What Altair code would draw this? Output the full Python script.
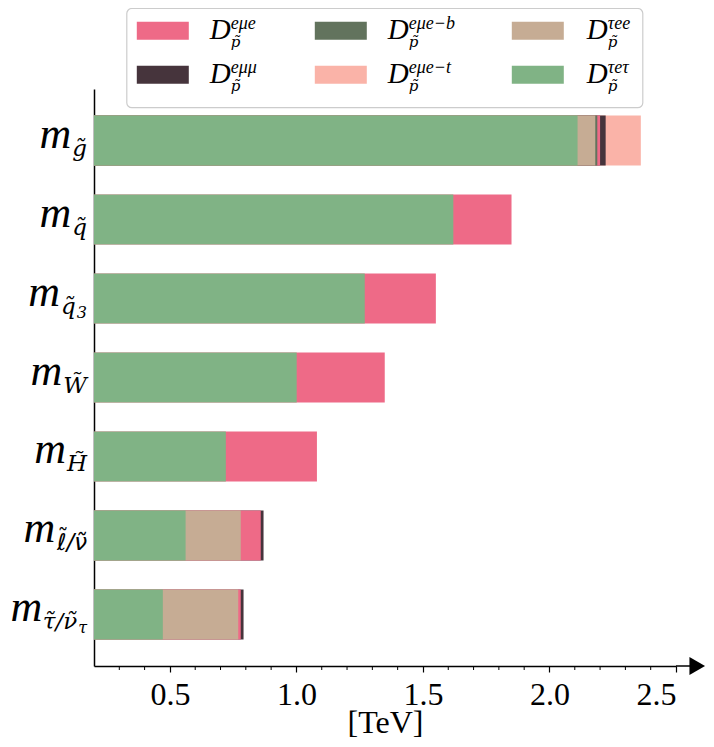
import altair as alt
import pandas as pd

# ---------------- data ----------------
categories = ["m_g", "m_q", "m_q3", "m_W", "m_H", "m_l", "m_tau"]
series = ["eμe", "eμμ", "eμe−b", "eμe−t", "τee", "τeτ"]
colors = ["#EE6A87", "#46343C", "#62735D", "#FAB3A8", "#C6AC94", "#80B385"]

# mass reach in TeV per benchmark (overlapping bars, None = not visible)
v_emue = [2.200, 1.850, 1.551, 1.349, 1.081, 0.859, 0.780]
v_emumu = [2.222, None, None, None, None, 0.870, 0.791]
v_emue_b = [2.189, None, None, None, None, None, None]
v_emue_t = [2.361, None, None, None, None, None, None]
v_tauee = [2.181, None, None, None, None, 0.780, 0.770]
v_tauetau = [2.111, 1.620, 1.270, 1.001, 0.721, 0.562, 0.472]

major_ticks = [0.5, 1.0, 1.5, 2.0, 2.5]
minor_ticks = [0.3, 0.4, 0.6, 0.7, 0.8, 0.9, 1.1, 1.2, 1.3, 1.4, 1.6, 1.7,
               1.8, 1.9, 2.1, 2.2, 2.3, 2.4]

# y labels: m with subscript (and sub-subscript)
label_subs = {
    "m_g": ["g\u0303"],
    "m_q": ["q\u0303"],
    "m_q3": ["q\u0303", "3"],
    "m_W": ["W\u0303"],
    "m_H": ["H\u0303"],
    "m_l": ["ℓ/ν\u0303"],
    "m_tau": ["τ\u0303/ν\u0303", "τ"],
}
legend_sups = series

# ---------------- layout ----------------
W, H = 582, 577
FONT = "Liberation Serif"
SUBFONT = "DejaVu Serif"
XMIN, XMAX = 0.2, 2.5
XARROW = 2.584

rows = []
for s, vals in zip(series, [v_emue, v_emumu, v_emue_b, v_emue_t, v_tauee, v_tauetau]):
    for c, v in zip(categories, vals):
        if v is not None:
            rows.append({"cat": c, "series": s, "value": v})
df = pd.DataFrame(rows).sort_values("value", ascending=False).reset_index(drop=True)
df["rank"] = range(len(df))

yscale = alt.Scale(paddingInner=0.37, paddingOuter=0.337)
yenc = alt.Y("cat:N", sort=categories, scale=yscale,
             axis=alt.Axis(labels=False, ticks=False, title=None, domainColor="black",
                           domainWidth=1.5, grid=False))

bars = alt.Chart(df).mark_bar(clip=True).encode(
    x=alt.X("value:Q", stack=None,
            scale=alt.Scale(domain=[XMIN, XMAX], nice=False, zero=False),
            axis=alt.Axis(values=major_ticks, format=".1f", labelFont=FONT, labelFontSize=32,
                          labelColor="black", labelPadding=7, tickSize=6, tickColor="black",
                          tickWidth=1.2, domainColor="black", domainWidth=1.5, grid=False,
                          title="[TeV]", titleFont=FONT, titleFontSize=32,
                          titleFontWeight="normal", titleColor="black",
                          titleBaseline="alphabetic", titleY=66)),
    x2=alt.datum(0),
    y=yenc,
    color=alt.Color("series:N", scale=alt.Scale(domain=series, range=colors), legend=None),
    order=alt.Order("rank:Q"),
)

minor = alt.Chart(pd.DataFrame({"t": minor_ticks})).mark_rule(color="black", strokeWidth=1).encode(
    x="t:Q", y=alt.value(H), y2=alt.value(H + 4))

one = alt.Data(values=[{"a": 1}])
arrow_line = alt.Chart(one).mark_rule(color="black", strokeWidth=1.5).encode(
    x=alt.datum(XMAX), x2=alt.datum(XARROW), y=alt.value(H))
arrow_head = alt.Chart(one).mark_point(shape="triangle-right", filled=True, size=324,
                                        color="black", opacity=1).encode(
    x=alt.datum(XARROW), y=alt.value(H))

# width estimates (em) for right-aligned labels
EM_M = {"m": 0.72}
EM_SUB = {"g": 0.64, "q": 0.64, "W": 1.03, "H": 0.87, "ℓ": 0.42, "/": 0.34,
          "ν": 0.58, "τ": 0.55, "3": 0.64, "\u0303": 0.0}


def tw(s, size, table):
    return sum(table.get(ch, 0.6) for ch in s) * size


label_layers = []
RIGHT = -7
for c in categories:
    parts = [("m", 44, 7, FONT, EM_M)]
    subs = label_subs[c]
    subfont = "DejaVu Sans" if "ℓ" in subs[0] else SUBFONT
    parts.append((subs[0], 23, 15, subfont, EM_SUB))
    if len(subs) > 1:
        parts.append((subs[1], 16, 19, SUBFONT, EM_SUB))
    x = RIGHT
    for text, size, dy, fnt, table in reversed(parts):
        label_layers.append(
            alt.Chart(pd.DataFrame({"cat": [c]})).mark_text(
                text=text, font=fnt, fontSize=size, fontStyle="italic", align="right",
                baseline="alphabetic", dy=dy, color="black").encode(
                y=alt.Y("cat:N", sort=categories), x=alt.value(x)))
        if text.startswith("ℓ"):
            # tilde accent above the script l
            lx = x - tw(text, size, table) + 0.5 * EM_SUB["ℓ"] * size + 2
            label_layers.append(
                alt.Chart(pd.DataFrame({"cat": [c]})).mark_text(
                    text="˜", font=SUBFONT, fontSize=22, align="center",
                    baseline="alphabetic", dy=dy - 5, color="black").encode(
                    y=alt.Y("cat:N", sort=categories), x=alt.value(lx)))
        x -= tw(text, size, table) + 1

# legend (manual, for math-style labels)
legend_layers = [
    alt.Chart(one).mark_rect(cornerRadius=5, fill="white", fillOpacity=0.85,
                             stroke="#cccccc", strokeWidth=1.2).encode(
        x=alt.value(32.8), x2=alt.value(548.8), y=alt.value(-80.5), y2=alt.value(18.7))
]
sw_x = [42.8, 220.8, 417.8]
tx_x = [115.8, 293.8, 492.8]
sw_y = [-67.3, -23.3]
base_y = [-50.3, -6.3]
for i, (s, col) in enumerate(zip(legend_sups, colors)):
    ci, ri = i // 2, i % 2
    legend_layers.append(alt.Chart(one).mark_rect(color=col).encode(
        x=alt.value(sw_x[ci]), x2=alt.value(sw_x[ci] + 52),
        y=alt.value(sw_y[ri]), y2=alt.value(sw_y[ri] + 18)))
    legend_layers.append(alt.Chart(one).mark_text(
        text="D", font=FONT, fontSize=29, fontStyle="italic", align="left",
        baseline="alphabetic", color="black").encode(
        x=alt.value(tx_x[ci]), y=alt.value(base_y[ri])))
    legend_layers.append(alt.Chart(one).mark_text(
        text=s, font=FONT, fontSize=18, fontStyle="italic", align="left",
        baseline="alphabetic", color="black").encode(
        x=alt.value(tx_x[ci] + 21), y=alt.value(base_y[ri] - 10)))
    legend_layers.append(alt.Chart(one).mark_text(
        text="p\u0303", font=SUBFONT, fontSize=15, fontStyle="italic", align="left",
        baseline="alphabetic", color="black").encode(
        x=alt.value(tx_x[ci] + 21), y=alt.value(base_y[ri] + 8)))

chart = alt.layer(bars, minor, arrow_line, arrow_head, *label_layers, *legend_layers).properties(
    width=W, height=H,
    autosize=alt.AutoSizeParams(type="none"),
    padding={"left": 86, "top": 81, "right": 30, "bottom": 73},
).configure_view(stroke=None)

chart.save("out.html", embed_options={"renderer": "svg", "actions": False})
